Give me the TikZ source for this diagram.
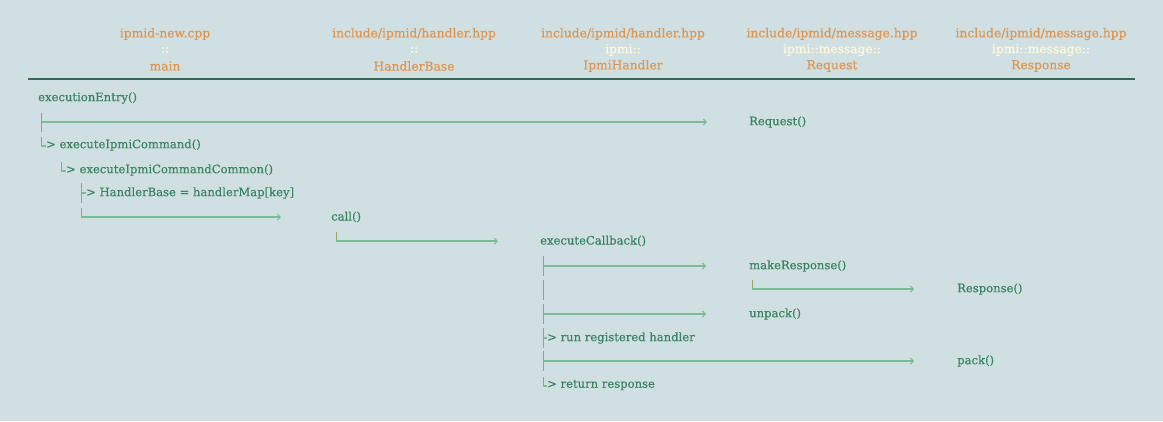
\documentclass[tikz,border=0pt]{standalone}
\usepackage{fontspec}
\setmainfont{DejaVu Serif}[FakeBold=0.5]
\usetikzlibrary{arrows.meta}
\definecolor{bgc}{HTML}{D0E0E2}
\definecolor{tgreen}{HTML}{3A8463}
\definecolor{horange}{HTML}{E09550}
\definecolor{hcream}{HTML}{FFF8DC}
\definecolor{rulec}{HTML}{2F6B55}
\definecolor{hlc}{HTML}{7DBB98}
\definecolor{vtc}{HTML}{98A868}
\tikzset{
  txt/.style={text=tgreen, font=\fontsize{11.6}{13}\selectfont, anchor=west, inner sep=0pt},
  hdr/.style={text=horange, font=\fontsize{12.3}{14}\selectfont, inner sep=0pt},
  hsep/.style={text=hcream, font=\fontsize{12.3}{14}\selectfont, inner sep=0pt},
  rulel/.style={draw=rulec, line width=1.6pt},
  vt/.style={draw=vtc, line width=0.9pt},
  hl/.style={draw=hlc, line width=1.2pt},
  conn/.style={draw=hlc, line width=1.2pt, -{Straight Barb[length=3pt,width=6pt,line width=1pt]}},
}
\begin{document}
\begin{tikzpicture}[x=1pt,y=-1pt]
\fill[bgc] (0,0) rectangle (1163,421);
\useasboundingbox (0,0) rectangle (1163,421);
% headers
\node[hdr]  (h1a) at (165,34) {ipmid-new.cpp};
\node[hsep] (h1b) at (165,50) {::};
\node[hdr]  (h1c) at (165,66) {main};
\node[hdr]  (h2a) at (414,34) {include/ipmid/handler.hpp};
\node[hsep] (h2b) at (414,50) {::};
\node[hdr]  (h2c) at (414,66) {HandlerBase};
\node[hdr]  (h3a) at (623,34) {include/ipmid/handler.hpp};
\node[hsep] (h3b) at (623,50) {ipmi::};
\node[hdr]  (h3c) at (623,66) {IpmiHandler};
\node[hdr]  (h4a) at (832,34) {include/ipmid/message.hpp};
\node[hsep] (h4b) at (832,50) {ipmi::message::};
\node[hdr]  (h4c) at (832,66) {Request};
\node[hdr]  (h5a) at (1041,34) {include/ipmid/message.hpp};
\node[hsep] (h5b) at (1041,50) {ipmi::message::};
\node[hdr]  (h5c) at (1041,66) {Response};
\coordinate (rl) at (28,79);
\coordinate (rr) at (1135,79);
\draw[rulel] (rl) -- (rr);
% row 1
\node[txt] (entry) at (38,98) {executionEntry()};
% row 2
\coordinate (t2) at (41,122);
\node[txt] (req) at (749,122) {Request()};
\draw[vt] (t2) ++(0,-9) -- ++(0,19);
\draw[conn] (t2) -- ([xshift=-42pt]req.west);
% row 3
\coordinate (t3) at (41,146);
\node[txt] (eic) at (46,145) {> executeIpmiCommand()};
\draw[vt] (t3) ++(0,-9) -- (t3);
\draw[hl] (t3) -- (eic.west |- t3);
% row 4
\coordinate (t4) at (61,171);
\node[txt] (eicc) at (66,170) {> executeIpmiCommandCommon()};
\draw[vt] (t4) ++(0,-9) -- (t4);
\draw[hl] (t4) -- (eicc.west |- t4);
% row 5
\coordinate (t5) at (81,193);
\node[txt] (hb) at (86,193) {> HandlerBase = handlerMap[key]};
\draw[vt] (t5) ++(0,-10) -- ++(0,20);
\draw[hl] (t5) -- (hb.west);
% row 6
\coordinate (t6) at (81,217);
\node[txt] (call) at (331,217) {call()};
\draw[vt] (t6) ++(0,-9) -- (t6);
\draw[conn] (t6) -- ([xshift=-50pt]call.west);
% row 7
\coordinate (t7) at (336,241);
\node[txt] (ecb) at (540,241) {executeCallback()};
\draw[vt] (t7) ++(0,-9) -- (t7);
\draw[conn] (t7) -- ([xshift=-42pt]ecb.west);
% row 8
\coordinate (t8) at (543,266);
\node[txt] (mkr) at (749,266) {makeResponse()};
\draw[vt] (t8) ++(0,-10) -- ++(0,20);
\draw[conn] (t8) -- ([xshift=-43pt]mkr.west);
% row 9
\coordinate (t9) at (543,289);
\draw[vt] (t9) ++(0,-9) -- ++(0,20);
\coordinate (t9b) at (752,289);
\node[txt] (resp) at (957,289) {Response()};
\draw[vt] (t9b) ++(0,-9) -- (t9b);
\draw[conn] (t9b) -- ([xshift=-43pt]resp.west);
% row 10
\coordinate (t10) at (543,314);
\node[txt] (unp) at (749,314) {unpack()};
\draw[vt] (t10) ++(0,-10) -- ++(0,20);
\draw[conn] (t10) -- ([xshift=-43pt]unp.west);
% row 11
\coordinate (t11) at (543,338);
\node[txt] (run) at (547,338) {> run registered handler};
\draw[vt] (t11) ++(0,-10) -- ++(0,20);
\draw[hl] (t11) -- (run.west);
% row 12
\coordinate (t12) at (543,361);
\node[txt] (pack) at (957,361) {pack()};
\draw[vt] (t12) ++(0,-10) -- ++(0,20);
\draw[conn] (t12) -- ([xshift=-43pt]pack.west);
% row 13
\coordinate (t13) at (543,386);
\node[txt] (ret) at (547,385) {> return response};
\draw[vt] (t13) ++(0,-9) -- (t13);
\draw[hl] (t13) -- (ret.west |- t13);
\end{tikzpicture}
\end{document}
